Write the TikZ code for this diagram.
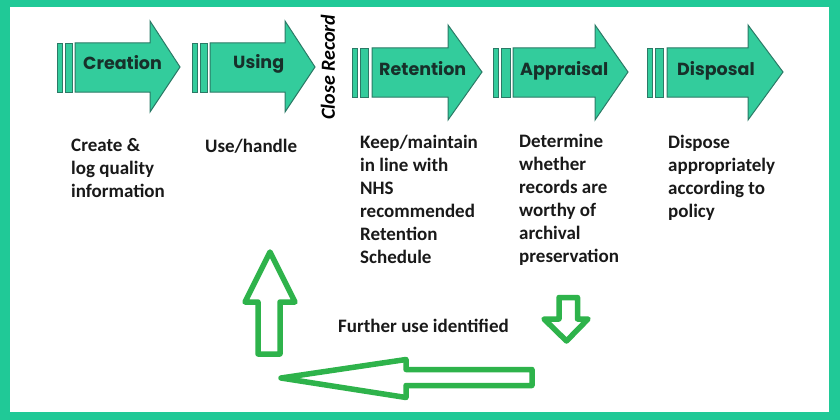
\documentclass[tikz,border=0pt]{standalone}
\usepackage{fontspec}
\setmainfont{Carlito}
\newfontfamily\stagefont{Poppins}
\usepackage{tikz}
\definecolor{framegreen}{HTML}{20C997}
\definecolor{stagefill}{HTML}{33CC9C}
\definecolor{stageline}{HTML}{2B7A66}
\definecolor{stagetext}{HTML}{17302A}
\definecolor{loopgreen}{HTML}{2EB34B}

\begin{document}
\begin{tikzpicture}[x=1pt,y=-1pt,
  stagebar/.style={fill=stagefill,draw=stageline,line width=0.8pt},
  stagebody/.style={fill=stagefill,draw=stageline,line width=1pt},
  stagelabel/.style={anchor=base west,inner sep=0pt,text=stagetext,
    font=\stagefont\bfseries\fontsize{17.5}{20}\selectfont},
  stagenote/.style={anchor=north west,inner sep=0pt,align=left,text=black!90,
    font=\bfseries\fontsize{19}{23}\selectfont},
  looparrow/.style={draw=loopgreen,line width=5.5pt,line join=round}]
% frame
\fill[framegreen] (0,0) rectangle (840,420);
\fill[white] (10,7) rectangle (829,412);

% Creation
\filldraw[stagebar] (57,43) rectangle (62,92);
\filldraw[stagebar] (65,43) rectangle (72,92);
\filldraw[stagebody] (75,43) -- (150,43) -- (150,21) -- (180,67) -- (150,112) -- (150,92) -- (75,92) -- cycle;
\node[stagelabel] (creation) at (83,70) {Creation};
% Using
\filldraw[stagebar] (192,43) rectangle (197,92);
\filldraw[stagebar] (200,43) rectangle (207,92);
\filldraw[stagebody] (210,43) -- (285,43) -- (285,21) -- (315,67) -- (285,112) -- (285,92) -- (210,92) -- cycle;
\node[stagelabel] (using) at (233,69) {Using};

\node[rotate=90,inner sep=0pt,font=\bfseries\itshape\fontsize{20}{23}\selectfont] (close) at (328,67) {Close Record};

% Retention
\filldraw[stagebar] (352,48) rectangle (357,97);
\filldraw[stagebar] (360,48) rectangle (368,97);
\filldraw[stagebody] (372,48) -- (448,48) -- (448,25) -- (482,72) -- (448,120) -- (448,97) -- (372,97) -- cycle;
\node[stagelabel] (retention) at (379,75) {Retention};
% Appraisal
\filldraw[stagebar] (493,48) rectangle (498,97);
\filldraw[stagebar] (501,48) rectangle (510,97);
\filldraw[stagebody] (513,48) -- (595,48) -- (595,25) -- (628,72) -- (595,120) -- (595,97) -- (513,97) -- cycle;
\node[stagelabel] (appraisal) at (520,75) {Appraisal};
% Disposal
\filldraw[stagebar] (647,48) rectangle (652,97);
\filldraw[stagebar] (655,48) rectangle (663,97);
\filldraw[stagebody] (667,48) -- (748,48) -- (748,25) -- (783,72) -- (748,120) -- (748,97) -- (667,97) -- cycle;
\node[stagelabel] (disposal) at (677,75) {Disposal};

% notes (top = first baseline - 16.1)
\node[stagenote] (createnote) at (71,135) {\strut Create \&\\log quality\\information};
\node[stagenote] (usenote) at (205,136) {\strut Use/handle};
\node[stagenote] (keepnote) at (360,132) {\strut Keep/maintain\\in line with\\NHS\\recommended\\Retention\\Schedule};
\node[stagenote] (determinenote) at (519,131) {\strut Determine\\whether\\records are\\worthy of\\archival\\preservation};
\node[stagenote] (disposenote) at (668,132) {\strut Dispose\\appropriately\\according to\\policy};
\node[stagenote] (further) at (338,316) {\strut Further use identified};

% loop back
\draw[looparrow] (559,297.5) -- (577.5,297.5) -- (577.5,319) -- (588,319) -- (566.5,341) -- (544,319) -- (559,319) -- cycle;
\draw[looparrow] (532,369.5) -- (406,369.5) -- (406,359.5) -- (281,378) -- (406,397.5) -- (406,385.5) -- (532,385.5) -- cycle;
\draw[looparrow] (258,354) -- (258,302) -- (245,302) -- (270,252) -- (295,302) -- (280,302) -- (280,354) -- cycle;
\end{tikzpicture}
\end{document}
